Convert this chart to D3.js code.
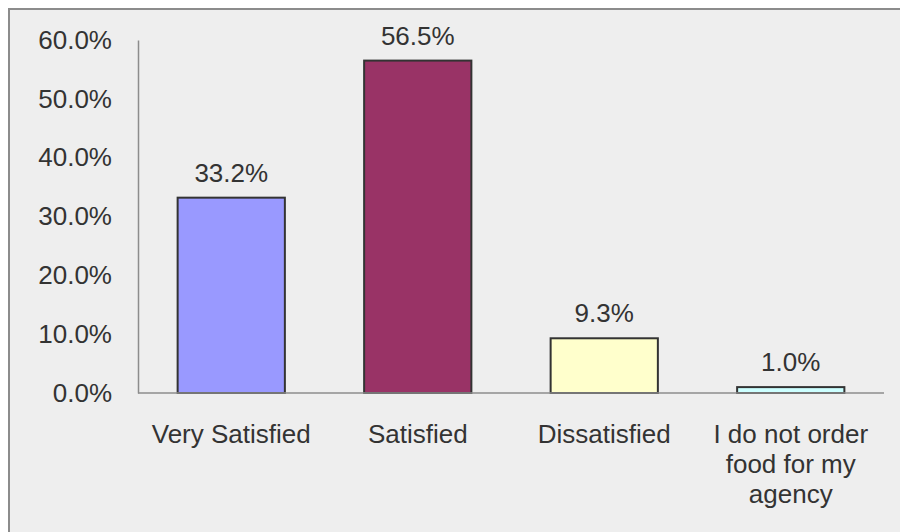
<!DOCTYPE html>
<html>
  <head>
    <meta charset="utf-8">
    <title></title>
    <script src="https://d3js.org/d3.v7.min.js"></script>
  </head>

  <style>
    body {
      margin: 0;
      background-color: white;
    }
    text {
      font-family: 'Liberation Sans', Arial, sans-serif;
      fill: #333;
    }
  </style>

  <body>
    <div id="chart"></div>
    <script>

    var categories = ['Very Satisfied', 'Satisfied', 'Dissatisfied', 'I do not order food for my agency'];
    // category labels wrapped like the original
    var categoryLines = [['Very Satisfied'], ['Satisfied'], ['Dissatisfied'], ['I do not order', 'food for my', 'agency']];
    var values = [0.332, 0.565, 0.093, 0.010];
    var barColors = ['#9999ff', '#993366', '#ffffcc', '#ccffff'];
    var yTicks = [0, 0.1, 0.2, 0.3, 0.4, 0.5, 0.6];

    var width = 900, height = 532;
    var margin = { top: 40, right: 16, bottom: 139, left: 138 };
    var fontSize = '26px';

    var svg = d3.select('#chart').append('svg')
      .attr('width', width)
      .attr('height', height);

    // chart frame, runs off the right and bottom edges
    svg.append('rect')
      .attr('x', 9)
      .attr('y', 9)
      .attr('width', 900)
      .attr('height', 540)
      .style('fill', '#eeeeee')
      .style('stroke', '#8c8c8c')
      .style('stroke-width', 2);

    var yScale = d3.scaleLinear()
      .domain([0, 0.6])
      .range([height - margin.bottom, margin.top]);

    var xScale = d3.scaleBand()
      .domain(categories)
      .range([margin.left, width - margin.right])
      .paddingInner(0.425)
      .paddingOuter(0.2125);

    var fmt = d3.format('.1%');

    // y axis
    var yAxis = d3.axisLeft(yScale)
      .tickValues(yTicks)
      .tickFormat(fmt)
      .tickSize(0)
      .tickPadding(26);

    var yGuide = svg.append('g')
      .attr('transform', 'translate(' + margin.left + ',0)')
      .call(yAxis);
    yGuide.select('.domain').style('stroke', '#8c8c8c').style('stroke-width', 1.5);
    yGuide.selectAll('text')
      .style('font-size', fontSize)
      .style('font-family', "'Liberation Sans', Arial, sans-serif")
      .style('fill', '#333');

    // bars
    svg.append('g').selectAll('rect')
      .data(values)
      .enter().append('rect')
      .attr('x', function(d, i) { return xScale(categories[i]); })
      .attr('y', function(d) { return yScale(d); })
      .attr('width', xScale.bandwidth())
      .attr('height', function(d) { return yScale(0) - yScale(d); })
      .style('fill', function(d, i) { return barColors[i]; })
      .style('stroke', '#333')
      .style('stroke-width', 2);

    // x axis baseline
    svg.append('line')
      .attr('x1', margin.left)
      .attr('x2', width - margin.right)
      .attr('y1', yScale(0))
      .attr('y2', yScale(0))
      .style('stroke', '#8c8c8c')
      .style('stroke-width', 1.5);

    // value labels
    svg.append('g').selectAll('text')
      .data(values)
      .enter().append('text')
      .attr('x', function(d, i) { return xScale(categories[i]) + xScale.bandwidth() / 2; })
      .attr('y', function(d) { return yScale(d) - 16; })
      .attr('text-anchor', 'middle')
      .style('font-size', fontSize)
      .text(function(d) { return fmt(d); });

    // category labels
    var catLabels = svg.append('g').selectAll('text')
      .data(categories)
      .enter().append('text')
      .attr('x', function(d) { return xScale(d) + xScale.bandwidth() / 2; })
      .attr('y', 443)
      .attr('text-anchor', 'middle')
      .style('font-size', fontSize);

    catLabels.selectAll('tspan')
      .data(function(d, i) { return categoryLines[i]; })
      .enter().append('tspan')
      .attr('x', function() { return d3.select(this.parentNode).attr('x'); })
      .attr('dy', function(d, i) { return i === 0 ? 0 : 30; })
      .text(function(d) { return d; });

    </script>
  </body>
</html>
